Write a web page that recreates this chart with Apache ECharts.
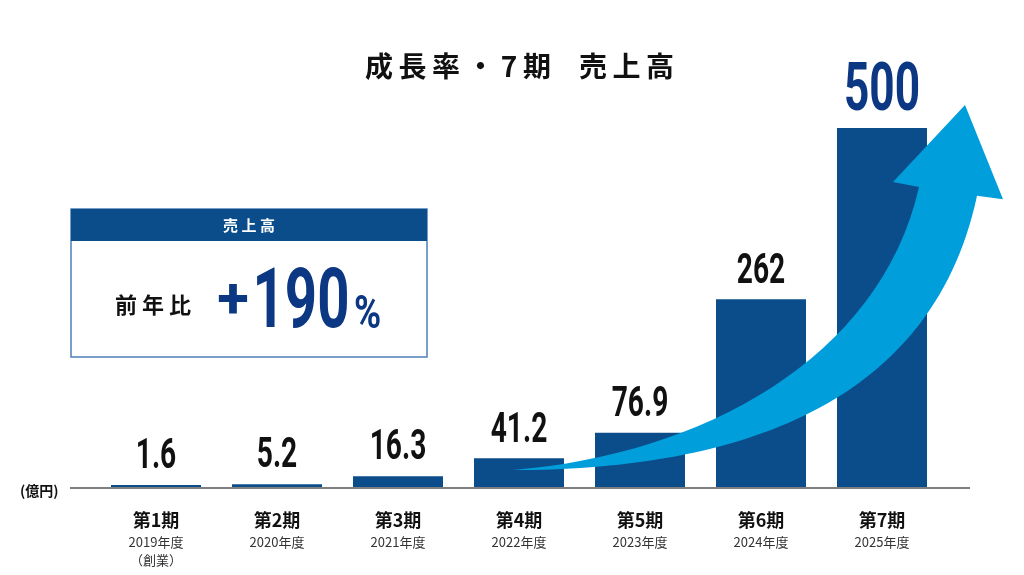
<!DOCTYPE html>
<html><head><meta charset="utf-8">
<script src="https://cdn.jsdelivr.net/npm/echarts@6/dist/echarts.min.js"></script>
<style>html,body{margin:0;padding:0;background:#fff}#c{width:1024px;height:575px}</style>
</head><body><div id="c"></div>
<script>
const periods = ['第1期','第2期','第3期','第4期','第5期','第6期','第7期'];
const fiscalYears = ['2019年度','2020年度','2021年度','2022年度','2023年度','2024年度','2025年度'];
const notes = ['（創業）','','','','','',''];
const sales = [1.6, 5.2, 16.3, 41.2, 76.9, 262, 500];
const unitLabel = '(億円)';
const titleText = '成長率・7期 売上高';
const boxHeader = '売上高';
const boxLabel = '前年比';
const growthValue = '190';

const NUM_FONT = 'Roboto, "Liberation Sans", sans-serif';
const CJK_FONT = '"Noto Sans CJK JP", "Noto Sans", sans-serif';
const BAR = '#0b4d8a';
const DARK = '#0c3783';
const SQ = 0.67;
const TS = '\u2009';

const spaced = s => s.split('').join(' ');
// title with letter spacing imitated by thin / normal spaces
const titleSpaced = titleText.split('').map((c, i, a) => {
  if (i === a.length - 1) return c;
  if (c === ' ') return '\u3000';
  if (c === '・' || a[i + 1] === '・') return c + ' ';
  if (a[i + 1] === ' ') return c;
  return c + TS;
}).join('');

const chart = echarts.init(document.getElementById('c'));
chart.setOption({
  animation: false,
  backgroundColor: '#fff',
  grid: { left: 95.5, right: 81.5, top: 128, bottom: 87 },
  xAxis: {
    type: 'category', data: periods,
    axisLine: { show: false }, axisTick: { show: false },
    axisLabel: {
      interval: 0, margin: 20,
      formatter: (v, i) => {
        let s = '{a|' + v + '}\n{b|' + fiscalYears[i] + '}';
        if (notes[i]) s += '\n{b|' + notes[i] + '}';
        return s;
      },
      rich: {
        a: { fontFamily: CJK_FONT, fontSize: 18, fontWeight: 'bold', color: '#111', lineHeight: 25 },
        b: { fontFamily: CJK_FONT, fontSize: 13, color: '#333', lineHeight: 18 }
      }
    }
  },
  yAxis: { type: 'value', min: 0, max: 500, show: false, splitLine: { show: false } },
  series: [
    {
      type: 'bar', data: sales,
      barWidth: 90, barMinHeight: 3,
      itemStyle: { color: BAR },
      z: 2
    },
    {
      type: 'custom', coordinateSystem: 'cartesian2d', clip: false, silent: true,
      data: sales.map((v, i) => [i, v]), z: 4,
      renderItem: (params, api) => {
        const i = api.value(0), v = api.value(1);
        const p = api.coord([i, v]);
        const last = params.dataIndex === sales.length - 1;
        const fs = last ? 66 : 42;
        const gap = last ? 12 : 13;
        return {
          type: 'text', x: p[0], y: Math.min(p[1], api.coord([0, 0])[1] - 3) - gap - 0.34 * fs,
          scaleX: SQ,
          style: {
            x: 0, y: 0, text: String(v), font: 'bold ' + fs + 'px ' + NUM_FONT,
            fill: last ? DARK : '#111', align: 'center', verticalAlign: 'middle'
          }
        };
      }
    },
    {
      type: 'custom', coordinateSystem: 'cartesian2d', clip: false, silent: true,
      data: [[0, 0]], z: 3,
      renderItem: (params, api) => {
        const x0 = api.coord([0, 0])[0];
        const bw = api.coord([1, 0])[0] - x0;
        const P = (c, v) => { const p = [x0 + c * bw, api.coord([0, v])[1]]; return p[0].toFixed(1) + ' ' + p[1].toFixed(1); };
        const d = 'M ' + P(2.95, 25) +
          ' C ' + P(4.66, 25) + ' ' + P(6.40, 101) + ' ' + P(6.785, 406) +
          ' L ' + P(7.0, 401) + ' L ' + P(6.686, 532) + ' L ' + P(6.091, 425) + ' L ' + P(6.306, 418) +
          ' C ' + P(5.983, 178) + ' ' + P(4.496, 46) + ' ' + P(2.95, 25) + ' Z';
        return { type: 'path', shape: { pathData: d }, style: { fill: '#009edb' } };
      }
    }
  ],
  graphic: [
    { type: 'text', x: 519.5, y: 66, style: { text: titleSpaced, font: 'bold 28px ' + CJK_FONT, fill: '#111', align: 'center', verticalAlign: 'middle' } },
    { type: 'line', shape: { x1: 70, y1: 488, x2: 970, y2: 488 }, style: { stroke: '#7f7f7f', lineWidth: 2 }, z: 10 },
    { type: 'text', x: 20, y: 491, style: { text: unitLabel, font: 'bold 14px ' + CJK_FONT, fill: '#111', verticalAlign: 'middle' } },
    { type: 'rect', shape: { x: 71, y: 209, width: 356, height: 148 }, style: { fill: '#fff', stroke: '#4d7fb5', lineWidth: 1.5 } },
    { type: 'rect', shape: { x: 71, y: 209, width: 356, height: 32 }, style: { fill: BAR } },
    { type: 'text', x: 249, y: 225, style: { text: spaced(boxHeader), font: 'bold 15px ' + CJK_FONT, fill: '#fff', align: 'center', verticalAlign: 'middle' } },
    { type: 'text', x: 153, y: 305, style: { text: spaced(boxLabel), font: 'bold 22px ' + CJK_FONT, fill: '#111', align: 'center', verticalAlign: 'middle' } },
    { type: 'text', x: 233, y: 303, style: { text: '+', font: 'bold 58px ' + NUM_FONT, fill: DARK, align: 'center', verticalAlign: 'middle' } },
    { type: 'text', x: 301, y: 335 - 0.34 * 84, scaleX: SQ, style: { x: 0, y: 0, text: growthValue, font: 'bold 84px ' + NUM_FONT, fill: DARK, align: 'center', verticalAlign: 'middle' } },
    { type: 'text', x: 354, y: 332 - 0.34 * 46, scaleX: 0.8, style: { x: 0, y: 0, text: '%', font: 'bold 46px ' + NUM_FONT, fill: DARK, align: 'left', verticalAlign: 'middle' } }
  ]
});
</script></body></html>
